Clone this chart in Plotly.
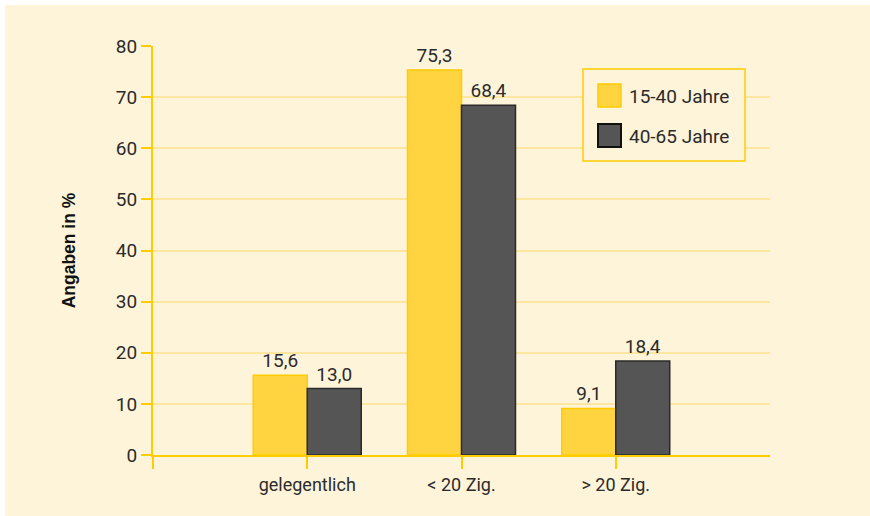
import plotly.graph_objects as go

categories = ["gelegentlich", "< 20 Zig.", "> 20 Zig."]
x_pos = [1, 2, 3]
series_names = ["15-40 Jahre", "40-65 Jahre"]
values_young = [15.6, 75.3, 9.1]
values_old = [13.0, 68.4, 18.4]
y_ticks = [0, 10, 20, 30, 40, 50, 60, 70, 80]

BG = "#FEF4DA"
YEL = "#FFD440"
YEL_EDGE = "#FFCC00"
GRAY = "#555555"
GRAY_EDGE = "#2a2a2a"
FONT = "Roboto"
TXT = "#2b2b2b"

def fmt(v):
    return f"{v:.1f}".replace(".", ",")

fig = go.Figure()
fig.add_trace(go.Bar(
    x=x_pos, y=values_young, name=series_names[0],
    marker=dict(color=YEL, line=dict(color=YEL_EDGE, width=1.5)),
    text=[fmt(v) for v in values_young], textposition="outside",
    textfont=dict(family=FONT, size=19, color=TXT), cliponaxis=False,
    showlegend=False,
))
fig.add_trace(go.Bar(
    x=x_pos, y=values_old, name=series_names[1],
    marker=dict(color=GRAY, line=dict(color=GRAY_EDGE, width=1.5)),
    text=[fmt(v) for v in values_old], textposition="outside",
    textfont=dict(family=FONT, size=19, color=TXT), cliponaxis=False,
    showlegend=False,
))

# plot area in pixels: x 153..770, y 46..455
def px(x):
    return (x - 153) / 617.0

def py(y):
    return (455 - y) / 409.0

shapes = [
    dict(type="rect", xref="paper", yref="paper",
         x0=px(-10), x1=px(900), y0=py(5), y1=py(-10), fillcolor="white",
         line=dict(width=0), layer="below"),
    dict(type="rect", xref="paper", yref="paper",
         x0=px(-10), x1=px(5), y0=py(530), y1=py(-10), fillcolor="white",
         line=dict(width=0), layer="below"),
    # legend box
    dict(type="rect", xref="paper", yref="paper",
         x0=px(583), x1=px(745), y0=py(161), y1=py(69), fillcolor=BG,
         line=dict(color=YEL_EDGE, width=1.5), layer="above"),
    dict(type="rect", xref="paper", yref="paper",
         x0=px(598), x1=px(621), y0=py(107), y1=py(84), fillcolor=YEL,
         line=dict(color=YEL_EDGE, width=1.5), layer="above"),
    dict(type="rect", xref="paper", yref="paper",
         x0=px(598), x1=px(621), y0=py(147), y1=py(124), fillcolor=GRAY,
         line=dict(color="#111", width=2), layer="above"),
]
annotations = [
    dict(xref="paper", yref="paper", x=px(627), y=py(96), text=series_names[0],
         showarrow=False, xanchor="left", yanchor="middle",
         font=dict(family=FONT, size=19, color=TXT)),
    dict(xref="paper", yref="paper", x=px(627), y=py(136), text=series_names[1],
         showarrow=False, xanchor="left", yanchor="middle",
         font=dict(family=FONT, size=19, color=TXT)),
]

fig.update_layout(
    width=870, height=516,
    margin=dict(l=153, r=100, t=46, b=61),
    paper_bgcolor=BG, plot_bgcolor=BG,
    barmode="group", bargap=0.3, bargroupgap=0,
    font=dict(family=FONT, size=19, color=TXT),
    showlegend=False,
    xaxis=dict(
        range=[0, 4], tickvals=[0] + x_pos, ticktext=[""] + categories,
        showgrid=False, zeroline=False,
        showline=True, linecolor=YEL_EDGE, linewidth=2,
        ticks="outside", ticklen=12, tickwidth=2, tickcolor=YEL_EDGE,
        tickfont=dict(family=FONT, size=18, color=TXT),
    ),
    yaxis=dict(
        range=[0, 80], tickvals=y_ticks,
        showgrid=True, gridcolor="#FDE6A0", gridwidth=2,
        zeroline=False,
        showline=True, linecolor=YEL_EDGE, linewidth=2,
        ticks="outside", ticklen=10, tickwidth=2, tickcolor=YEL_EDGE,
        tickfont=dict(family=FONT, size=19, color=TXT),
        title=dict(text="<b>Angaben in %</b>", standoff=36,
                   font=dict(family="Liberation Sans", size=17.5, color="#111")),
    ),
    shapes=shapes,
    annotations=annotations,
)

fig.write_html("out.html", config={"displayModeBar": False},
               post_script="document.body.style.margin='0';document.body.style.overflow='hidden';")
